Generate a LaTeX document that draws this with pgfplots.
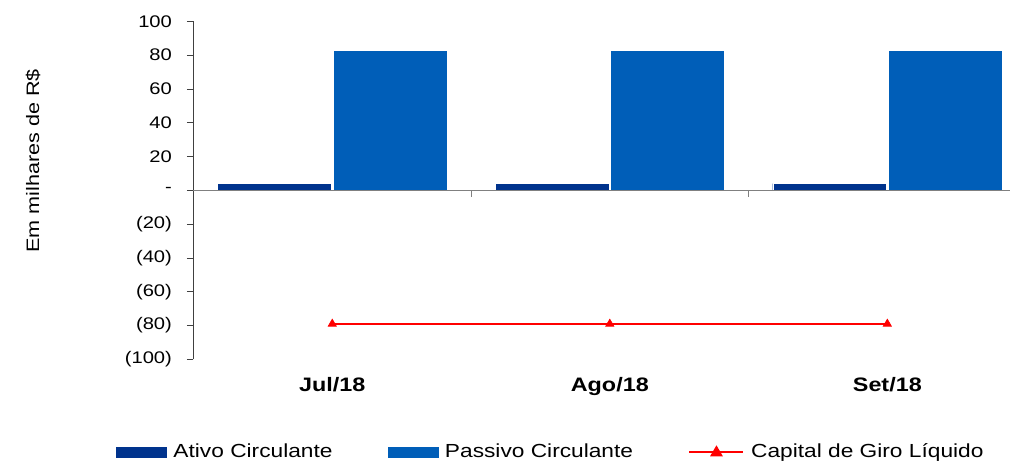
\documentclass[border=0pt]{standalone}
\usepackage{fontspec}
\setmainfont{Liberation Sans}[FakeStretch=1.2]
\usepackage{pgfplots}
\pgfplotsset{compat=1.18}
\definecolor{ativo}{HTML}{00338D}
\definecolor{passivo}{HTML}{005EB8}
\definecolor{axgray}{HTML}{808080}
\begin{document}
\begin{tikzpicture}
\begin{axis}[
  scale only axis,
  width=612.375pt, height=253.5pt,
  xmin=-0.5, xmax=2.442,
  ymin=-100, ymax=100,
  axis y line*=left,
  axis x line*=bottom,
  x axis line style={draw=none},
  y axis line style={draw=black!75, line width=0.6pt},
  xtick={0,1,2},
  xticklabels={Jul/18,Ago/18,Set/18},
  major x tick style={draw=none},
  xticklabel style={font=\fontsize{14.6}{16}\selectfont\bfseries, anchor=north, inner sep=0pt, yshift=-8.5pt},
  ytick={-100,-80,-60,-40,-20,0,20,40,60,80,100},
  yticklabels={\textnormal{(100)},\textnormal{(80)},\textnormal{(60)},\textnormal{(40)},\textnormal{(20)},\textnormal{-},\textnormal{20},\textnormal{40},\textnormal{60},\textnormal{80},\textnormal{100}},
  yticklabel style={font=\fontsize{12.6}{14}\selectfont, anchor=east, inner sep=0pt, xshift=-11pt},
  tick align=outside,
  major tick length=5pt,
  major y tick style={draw=black!75, line width=0.6pt},
  ylabel={Em milhares de R\$},
  ylabel style={font=\fontsize{13.5}{16}\selectfont, at={(axis description cs:-0.1966,0.587)}, anchor=center, rotate=0},
  ybar, bar width=0.41,
  legend columns=3,
  legend style={draw=none, fill=none, at={(axis description cs:0.4378,-0.274)}, anchor=center,
    font=\fontsize{14.2}{16}\selectfont,
    nodes={inner sep=1.5pt, anchor=west},
    /tikz/every odd column/.append style={column sep=3.5pt},
    /tikz/every even column/.append style={column sep=40pt}},
  clip=false,
]
\addplot[fill=ativo, draw=white, line width=0.3pt, bar shift=-0.208,
  legend image code/.code={\fill[ativo] (0pt,-3.75pt) rectangle (37.5pt,3.75pt);}]
  coordinates {(0,4) (1,4) (2,4)};
\addlegendentry{Ativo Circulante}
\addplot[fill=passivo, draw=white, line width=0.3pt, bar shift=0.208,
  legend image code/.code={\fill[passivo] (0pt,-3.75pt) rectangle (37.5pt,3.75pt);}]
  coordinates {(0,83) (1,83) (2,83)};
\addlegendentry{Passivo Circulante}
\addplot[sharp plot, red, line width=1.5pt, mark=triangle*, mark size=3.5pt, mark options={solid, line width=0.5pt},
  legend image code/.code={\draw[red, line width=1.5pt] (0pt,0pt) -- (40.5pt,0pt); \fill[red] (20.25pt,0pt) ++(0,3.5pt) -- ++(-3.5pt,-6pt) -- ++(7pt,0) -- cycle;}]
  coordinates {(0,-79) (1,-79) (2,-79)};
\addlegendentry{Capital de Giro Líquido}
\draw[axgray, line width=0.8pt] (axis cs:-0.5,0) -- (axis cs:2.442,0);
\draw[axgray, line width=0.8pt] (axis cs:0.5,0) -- ([yshift=-5.25pt]axis cs:0.5,0);
\draw[axgray, line width=0.8pt] (axis cs:1.5,0) -- ([yshift=-5.25pt]axis cs:1.5,0);
\end{axis}
\pgfresetboundingbox
\useasboundingbox ([xshift=-145.125pt,yshift=-77pt]current axis.south west) rectangle ([yshift=16pt]current axis.north east);
\end{tikzpicture}
\end{document}
